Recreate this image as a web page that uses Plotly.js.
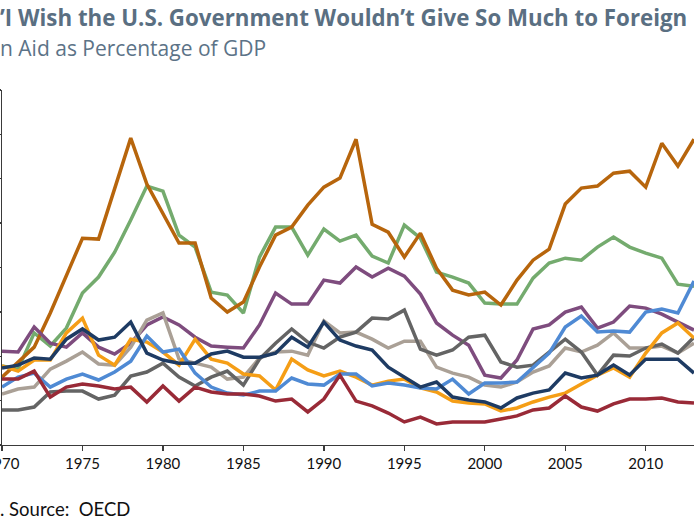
<!DOCTYPE html>
<html>
<head>
<meta charset="utf-8">
<script src="https://cdn.plot.ly/plotly-3.0.1.min.js"></script>
<style>html,body{margin:0;padding:0;background:#fff;}#chart{width:700px;height:525px;}</style>
</head>
<body>
<div id="chart"></div>
<script>
const years = [1970,1971,1972,1973,1974,1975,1976,1977,1978,1979,1980,1981,1982,1983,1984,1985,1986,1987,1988,1989,1990,1991,1992,1993,1994,1995,1996,1997,1998,1999,2000,2001,2002,2003,2004,2005,2006,2007,2008,2009,2010,2011,2012,2013];
const xTickVals = [1970,1975,1980,1985,1990,1995,2000,2005,2010];

const seriesGreen  = [0.356,0.342,0.505,0.446,0.527,0.685,0.757,0.869,1.014,1.167,1.144,0.946,0.892,0.689,0.676,0.595,0.847,0.982,0.982,0.856,0.973,0.919,0.946,0.851,0.820,0.991,0.932,0.779,0.757,0.730,0.640,0.635,0.635,0.752,0.820,0.842,0.833,0.892,0.937,0.892,0.865,0.842,0.725,0.716];
const seriesBrown  = [0.306,0.374,0.441,0.595,0.761,0.932,0.928,1.158,1.383,1.176,1.045,0.910,0.910,0.662,0.599,0.644,0.802,0.946,0.982,1.081,1.162,1.203,1.378,0.995,0.959,0.847,0.955,0.797,0.698,0.676,0.689,0.631,0.743,0.833,0.883,1.086,1.158,1.167,1.225,1.234,1.162,1.360,1.257,1.378];
const seriesPurple = [0.423,0.419,0.532,0.459,0.441,0.505,0.441,0.410,0.459,0.541,0.577,0.541,0.486,0.446,0.441,0.437,0.541,0.685,0.635,0.635,0.743,0.730,0.802,0.757,0.797,0.761,0.680,0.550,0.495,0.450,0.315,0.302,0.383,0.523,0.541,0.599,0.622,0.527,0.554,0.626,0.617,0.590,0.554,0.518];
const seriesTan    = [0.230,0.252,0.261,0.342,0.378,0.419,0.365,0.360,0.441,0.563,0.595,0.387,0.369,0.351,0.297,0.306,0.392,0.419,0.423,0.405,0.559,0.505,0.509,0.477,0.437,0.468,0.468,0.351,0.324,0.306,0.270,0.261,0.284,0.329,0.356,0.437,0.419,0.450,0.505,0.437,0.437,0.446,0.414,0.459];
const seriesGrey   = [0.158,0.158,0.171,0.239,0.243,0.243,0.207,0.225,0.311,0.329,0.369,0.306,0.266,0.306,0.333,0.270,0.387,0.459,0.523,0.464,0.437,0.486,0.509,0.572,0.568,0.608,0.432,0.405,0.428,0.486,0.495,0.374,0.351,0.360,0.419,0.477,0.419,0.315,0.405,0.401,0.437,0.455,0.414,0.486];
const seriesOrange = [0.356,0.333,0.383,0.383,0.505,0.572,0.405,0.360,0.477,0.464,0.419,0.360,0.477,0.387,0.369,0.320,0.311,0.248,0.387,0.338,0.311,0.333,0.306,0.270,0.288,0.297,0.257,0.239,0.198,0.189,0.185,0.153,0.167,0.194,0.216,0.234,0.275,0.315,0.347,0.306,0.414,0.505,0.550,0.482];
const seriesBlue   = [0.261,0.306,0.324,0.261,0.297,0.320,0.293,0.329,0.378,0.491,0.419,0.432,0.324,0.261,0.234,0.225,0.243,0.243,0.302,0.275,0.270,0.320,0.320,0.266,0.279,0.270,0.257,0.252,0.297,0.230,0.279,0.279,0.284,0.347,0.414,0.532,0.581,0.509,0.514,0.509,0.599,0.613,0.595,0.739];
const seriesRed    = [0.297,0.297,0.333,0.216,0.261,0.275,0.266,0.252,0.261,0.194,0.266,0.198,0.261,0.239,0.230,0.230,0.221,0.198,0.207,0.149,0.207,0.315,0.198,0.176,0.144,0.104,0.126,0.095,0.104,0.104,0.104,0.117,0.131,0.158,0.167,0.221,0.171,0.153,0.185,0.207,0.207,0.212,0.194,0.189];
const seriesNavy   = [0.347,0.360,0.392,0.387,0.477,0.523,0.473,0.486,0.554,0.414,0.383,0.369,0.369,0.410,0.423,0.396,0.396,0.414,0.486,0.441,0.554,0.473,0.446,0.428,0.351,0.306,0.261,0.284,0.216,0.203,0.194,0.167,0.212,0.234,0.248,0.324,0.302,0.315,0.360,0.315,0.387,0.387,0.387,0.324];

const titleText = "’I Wish the U.S. Government Wouldn’t Give So Much to Foreign";
const subtitleText = "n Aid as Percentage of GDP";
const sourceText = ". Source:  OECD";

const series = [
  {y: seriesGreen,  color: '#74AB6E'},
  {y: seriesBrown,  color: '#B7650C'},
  {y: seriesPurple, color: '#7E4C7E'},
  {y: seriesTan,    color: '#AAA096'},
  {y: seriesGrey,   color: '#646464'},
  {y: seriesOrange, color: '#F59E16'},
  {y: seriesBlue,   color: '#4F8AD4'},
  {y: seriesRed,    color: '#992A37'},
  {y: seriesNavy,   color: '#1E3B63'}
];

const traces = series.map(s => ({
  x: years, y: s.y, type: 'scatter', mode: 'lines',
  line: {color: s.color, width: 3.5},
  hoverinfo: 'skip'
}));

const layout = {
  width: 700, height: 525,
  margin: {l: 2, r: 6, t: 90, b: 80, pad: 0},
  paper_bgcolor: '#fff', plot_bgcolor: '#fff',
  showlegend: false,
  font: {family: 'Lato, "Open Sans", sans-serif', color: '#000'},
  xaxis: {
    range: [1970, 2013], tickmode: 'array', tickvals: xTickVals,
    ticktext: xTickVals.map(String),
    ticklabeloverflow: 'allow',
    showgrid: false, zeroline: false,
    showline: true, linecolor: '#3a3a3a', linewidth: 1.3,
    ticks: 'outside', ticklen: 5, tickcolor: '#3a3a3a', tickwidth: 1.3,
    tickfont: {size: 15, color: '#111', family: 'Lato, sans-serif'}
  },
  yaxis: {
    range: [0, 1.6], dtick: 0.2, showticklabels: false,
    showgrid: false, zeroline: false,
    showline: true, linecolor: '#3a3a3a', linewidth: 1.3,
    ticks: 'outside', ticklen: 3, tickcolor: '#3a3a3a', tickwidth: 1.3
  },
  annotations: [
    {text: '<b>' + titleText + '</b>', xref: 'paper', yref: 'paper', x: -0.006, y: 1.2056,
     xanchor: 'left', yanchor: 'middle', showarrow: false,
     font: {size: 22.3, color: '#5A6F82', family: '"Open Sans", sans-serif'}},
    {text: subtitleText, xref: 'paper', yref: 'paper', x: -0.006, y: 1.1183,
     xanchor: 'left', yanchor: 'middle', showarrow: false,
     font: {size: 21, color: '#5C7387', family: '"Open Sans", sans-serif'}},
    {text: sourceText, xref: 'paper', yref: 'paper', x: -0.006, y: -0.180,
     xanchor: 'left', yanchor: 'middle', showarrow: false,
     font: {size: 18.5, color: '#111', family: 'Lato, sans-serif'}}
  ]
};

Plotly.newPlot('chart', traces, layout, {displayModeBar: false, staticPlot: true});
</script>
</body>
</html>
